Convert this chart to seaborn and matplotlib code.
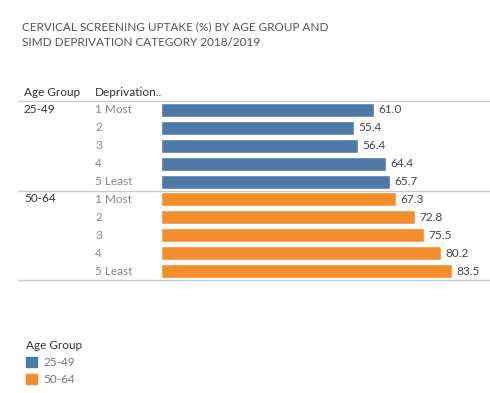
import pandas as pd
import seaborn as sns
import matplotlib.pyplot as plt
from matplotlib.patches import Patch
from matplotlib.transforms import blended_transform_factory

# Data
age_groups = ['25-49'] * 5 + ['50-64'] * 5
deprivation = ['1 Most', '2', '3', '4', '5 Least'] * 2
uptake = [61.0, 55.4, 56.4, 64.4, 65.7, 67.3, 72.8, 75.5, 80.2, 83.5]
colors = {'25-49': '#4e79a7', '50-64': '#f28e2b'}

df = pd.DataFrame({'age': age_groups, 'dep': deprivation, 'uptake': uptake})
df['row'] = df['age'] + '|' + df['dep']

sns.set_style('white')
plt.rcParams['font.family'] = ['Lato', 'DejaVu Sans']

W, H = 490, 393
fig = plt.figure(figsize=(W / 100, H / 100), dpi=100)
ax = fig.add_axes([161 / W, 1 - 280 / H, (W - 161) / W, (280 - 101) / H])

sns.barplot(data=df, x='uptake', y='row', hue='age', palette=colors,
            orient='h', dodge=False, width=0.78, saturation=1, legend=False, ax=ax)

for c in ax.containers:
    ax.bar_label(c, fmt='%.1f', padding=3, fontsize=8.5, color='#444444')

ax.set_xlim(0, (W - 161) / 3.49)
ax.set_ylim(len(df) - 0.5, -0.5)
ax.set_xlabel('')
ax.set_ylabel('')
ax.set_xticks([])
ax.set_yticks([])
sns.despine(ax=ax, left=True, bottom=True, top=True, right=True)

# Row labels
tr = blended_transform_factory(fig.transFigure, ax.transData)
for i, (a, d) in enumerate(zip(df['age'], df['dep'])):
    ax.text(95 / W, i, d, transform=tr, fontsize=8.5, color='#888888', va='center')
    if d == '1 Most':
        ax.text(24 / W, i - 0.05, a, transform=tr, fontsize=8.5, color='#333333', va='center')

# Header and separators
x0 = (18 - 161) / (W - 161)
for yv in [-0.5, 4.5, 9.5]:
    ax.axhline(yv, xmin=x0, xmax=1, color='#cccccc', lw=1, clip_on=False)
fig.text(24 / W, 1 - 93 / H, 'Age Group', fontsize=8.5, color='#333333', va='center')
fig.text(95 / W, 1 - 93 / H, 'Deprivation..', fontsize=8.5, color='#333333', va='center')

# Title
fig.text(22 / W, 1 - 35 / H,
         'CERVICAL SCREENING UPTAKE (%) BY AGE GROUP AND\nSIMD DEPRIVATION CATEGORY 2018/2019',
         fontsize=8.5, color='#555555', va='center', linespacing=1.5)

# Legend
handles = [Patch(color=colors[k], label=k) for k in colors]
leg = fig.legend(handles=handles, title='Age Group', loc='upper left',
                 bbox_to_anchor=(15 / W, 1 - 329 / H), frameon=False,
                 fontsize=8.5, title_fontsize=8.5, handlelength=1.0, handleheight=1.0,
                 handletextpad=0.5, labelspacing=0.5, alignment='left')
for t in leg.get_texts():
    t.set_color('#777777')
leg.get_title().set_color('#333333')

fig.savefig('out.png', dpi=100)
